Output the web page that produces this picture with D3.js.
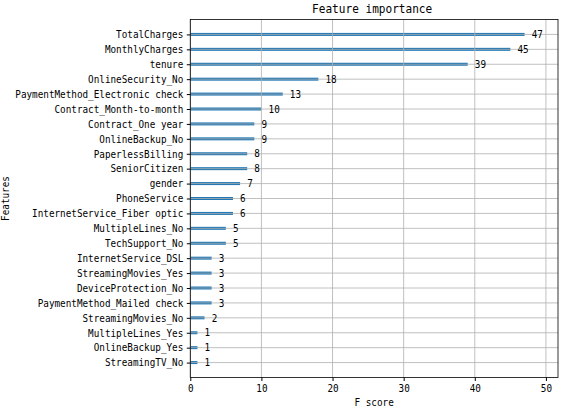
<!DOCTYPE html>
<html><head><meta charset="utf-8">
<script src="https://cdn.jsdelivr.net/npm/d3@7"></script>
<style>body{margin:0;background:#fff}svg{display:block}text{font-family:"DejaVu Sans Mono","Liberation Mono",monospace;fill:#000}</style>
</head><body>
<script>
const features = ["TotalCharges","MonthlyCharges","tenure","OnlineSecurity_No","PaymentMethod_Electronic check","Contract_Month-to-month","Contract_One year","OnlineBackup_No","PaperlessBilling","SeniorCitizen","gender","PhoneService","InternetService_Fiber optic","MultipleLines_No","TechSupport_No","InternetService_DSL","StreamingMovies_Yes","DeviceProtection_No","PaymentMethod_Mailed check","StreamingMovies_No","MultipleLines_Yes","OnlineBackup_Yes","StreamingTV_No"];
const fscores = [47,45,39,18,13,10,9,9,8,8,7,6,6,5,5,3,3,3,3,2,1,1,1];
const xTicks = [0,10,20,30,40,50];
const title = "Feature importance";
const xLabel = "F score";
const yLabel = "Features";

const W = 562, H = 409;
const L = 190.3, R = 558, T = 19.5, B = 377.5;
const CW = 5.6; // char advance in px (half-width font look)
const svg = d3.select("body").append("svg").attr("width", W).attr("height", H);

function fit(sel, cw, fs) {
  sel.attr("font-size", fs + "px")
     .attr("textLength", function () { return this.textContent.length * cw; })
     .attr("lengthAdjust", "spacingAndGlyphs");
}

const xMax = d3.max(fscores) * 1.1;
const x = d3.scaleLinear().domain([0, xMax]).range([L, R]);
const n = features.length;
const yv = d3.scaleLinear().domain([-1, n]).range([B, T]);
const yPos = i => yv(n - 1 - i);
const barH = yv(0) - yv(0.2);

const grid = "#b0b0b0";
svg.append("g").selectAll("rect").data(fscores).join("rect")
  .attr("x", x(0)).attr("y", (d, i) => yPos(i) - barH / 2)
  .attr("width", d => x(d) - x(0)).attr("height", barH)
  .attr("fill", "#1f77b4");
svg.append("g").selectAll("line").data(xTicks).join("line")
  .attr("x1", d => x(d)).attr("x2", d => x(d)).attr("y1", T).attr("y2", B)
  .attr("stroke", grid).attr("stroke-width", 0.8);
svg.append("g").selectAll("line").data(features).join("line")
  .attr("x1", L).attr("x2", R).attr("y1", (d, i) => yPos(i)).attr("y2", (d, i) => yPos(i))
  .attr("stroke", grid).attr("stroke-width", 0.8);

svg.append("g").selectAll("text").data(fscores).join("text")
  .attr("x", d => x(d + 1)).attr("y", (d, i) => yPos(i)).attr("dy", "0.36em")
  .text(d => d).call(fit, CW, 10.3);

const xAxis = d3.axisBottom(x).tickValues(xTicks).tickSize(3.5).tickPadding(3.5).tickFormat(d3.format("d"));
const gx = svg.append("g").attr("transform", `translate(0,${B})`).call(xAxis);
gx.select(".domain").remove();
gx.selectAll("text").attr("font-family", null).call(fit, CW, 10.3);

const yAxis = d3.axisLeft(d3.scalePoint().domain(features).range([yPos(0), yPos(n - 1)])).tickSize(3.5).tickPadding(3.5);
const gy = svg.append("g").attr("transform", `translate(${L},0)`).call(yAxis);
gy.select(".domain").remove();
gy.selectAll("text").attr("font-family", null).call(fit, CW, 10.3);

svg.append("rect").attr("x", L).attr("y", T).attr("width", R - L).attr("height", B - T)
  .attr("fill", "none").attr("stroke", "#000").attr("stroke-width", 0.8);

svg.append("text").attr("x", (L + R) / 2 - 2).attr("y", 13).attr("text-anchor", "middle")
  .text(title).call(fit, 6.67, 12.3);
svg.append("text").attr("x", (L + R) / 2).attr("y", 406).attr("text-anchor", "middle")
  .text(xLabel).call(fit, CW, 10.3);
svg.append("text").attr("transform", `translate(9,${(T + B) / 2}) rotate(-90)`).attr("text-anchor", "middle")
  .text(yLabel).call(fit, CW, 10.3);
</script>
</body></html>
